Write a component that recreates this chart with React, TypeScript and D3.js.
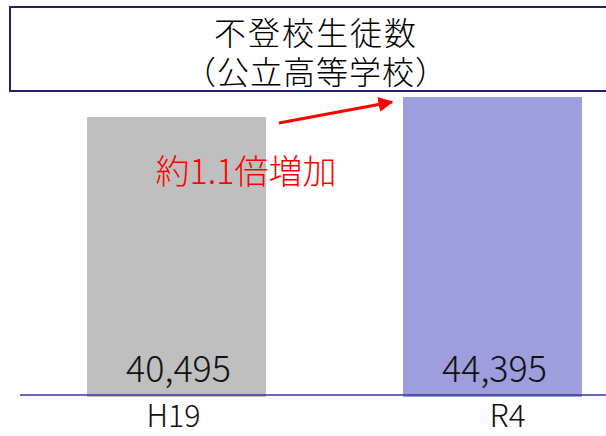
import React from 'react'
import * as d3 from 'd3'

const categories = ['H19', 'R4']
const values = [40495, 44395]
const barColors = ['#bfbfbf', '#9e9ede']
const titleLines = ['不登校生徒数', '（公立高等学校）']
const noteText = '約1.1倍増加'

const W = 606
const H = 436
const FONT = '"Noto Sans CJK JP", "Noto Sans", sans-serif'

export default function App() {
  const baseY = 395
  // axis doesn't start at zero in the original slide
  const y = d3.scaleLinear().domain([-13700, 44395]).range([baseY, 97])
  const x = d3.scaleBand().domain(categories).range([87, 582]).paddingInner(0.4335).paddingOuter(0)
  const fmt = d3.format(',')
  const bw = x.bandwidth()
  const labelShift = [-3, 15]

  return (
    <svg width={W} height={H} style={{ position: 'absolute', left: 0, top: 0 }} fontFamily={FONT} fontWeight={300}>
      <defs>
        <marker id="arr" viewBox="0 0 10 10" refX="9" refY="5" markerWidth="5" markerHeight="5" orient="auto">
          <path d="M0,0 L10,5 L0,10 z" fill="#ff0000" />
        </marker>
      </defs>
      <rect x={10} y={7} width={600} height={84} fill="#fff" stroke="#22226a" strokeWidth={2} />
      <text x={316} y={45} textAnchor="middle" fontSize={32} letterSpacing={2} fill="#000">{titleLines[0]}</text>
      <text x={316} y={84} textAnchor="middle" fontSize={32} letterSpacing={1} fill="#000">{titleLines[1]}</text>
      {categories.map((c, i) => {
        const cx = (x(c) || 0) + bw / 2
        return (
          <g key={c}>
            <rect x={x(c)} y={y(values[i])} width={bw} height={baseY + 2 - y(values[i])} fill={barColors[i]} />
            <text x={cx + 2} y={382} textAnchor="middle" fontSize={36} textLength={105}
              lengthAdjust="spacingAndGlyphs" fill="#111">{fmt(values[i])}</text>
            <text x={cx + labelShift[i]} y={427} textAnchor="middle" fontSize={31}
              textLength={c.length * 18} lengthAdjust="spacingAndGlyphs" fill="#111">{c}</text>
          </g>
        )
      })}
      <line x1={20} x2={W} y1={baseY} y2={baseY} stroke="#3434a8" strokeWidth={1.5} />
      <line x1={279} y1={123} x2={392} y2={102} stroke="#ff0000" strokeWidth={3} markerEnd="url(#arr)" />
      <text x={246} y={184} textAnchor="middle" fontSize={34} fill="#ff0000">{noteText}</text>
    </svg>
  )
}
